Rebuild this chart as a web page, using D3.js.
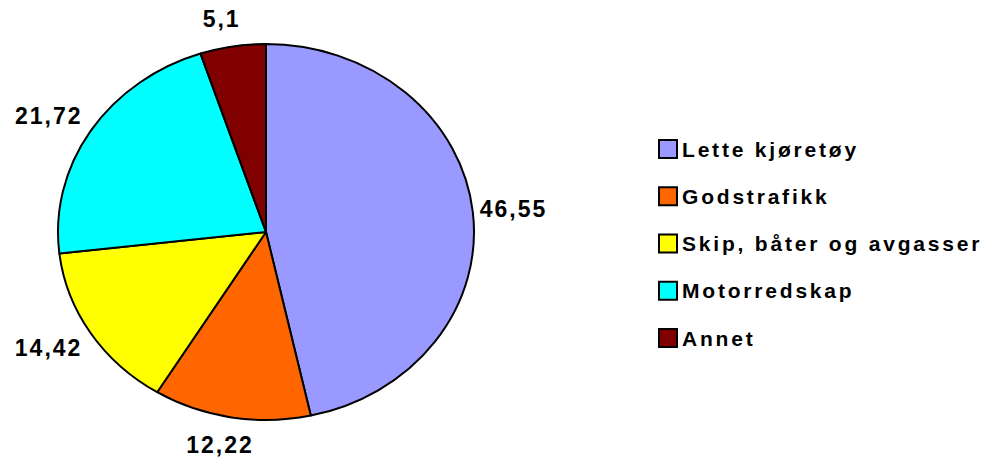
<!DOCTYPE html>
<html>
<head>
<meta charset="utf-8">
<script src="https://cdn.jsdelivr.net/npm/d3@7"></script>
<style>
  html, body { margin: 0; padding: 0; background: #fff; }
  svg { display: block; font-family: "Liberation Sans", Arial, sans-serif; }
</style>
</head>
<body>
<svg id="chart" width="988" height="460"></svg>
<script>
// Andel utslipp per kilde (prosent)
const categories = ["Lette kjøretøy", "Godstrafikk", "Skip, båter og avgasser", "Motorredskap", "Annet"];
const values = [46.55, 12.22, 14.42, 21.72, 5.1];
const valueLabels = ["46,55", "12,22", "14,42", "21,72", "5,1"];
const colors = ["#9999FF", "#FF6600", "#FFFF00", "#00FFFF", "#800000"];

const svg = d3.select("#chart");

// Elliptical pie: a unit-radius pie stretched to the plot box
const cx = 266, cy = 232, rx = 208, ry = 188;
const R = 100;

const pie = d3.pie().sort(null).value(d => d.value);
const arcs = pie(categories.map((c, i) => ({ name: c, value: values[i], label: valueLabels[i], color: colors[i] })));
const arc = d3.arc().innerRadius(0).outerRadius(R);

const pieG = svg.append("g")
  .attr("transform", `translate(${cx},${cy}) scale(${rx / R},${ry / R})`);

pieG.selectAll("path.slice")
  .data(arcs)
  .join("path")
  .attr("class", "slice")
  .attr("d", arc)
  .attr("fill", d => d.data.color)
  .attr("stroke", "#000")
  .attr("stroke-width", 2)
  .attr("stroke-linejoin", "round")
  .attr("vector-effect", "non-scaling-stroke");

// Value labels on an outer ellipse around the rim, at each slice's mid angle
const labelRx = rx + 45, labelRy = ry + 28;
svg.append("g")
  .selectAll("text")
  .data(arcs)
  .join("text")
  .attr("font-size", 23)
  .attr("font-weight", "bold")
  .attr("letter-spacing", 2)
  .attr("fill", "#000")
  .attr("text-anchor", "middle")
  .attr("dominant-baseline", "central")
  .attr("x", d => cx + labelRx * Math.sin((d.startAngle + d.endAngle) / 2) - 4)
  .attr("y", d => cy - labelRy * Math.cos((d.startAngle + d.endAngle) / 2))
  .text(d => d.data.label);

// Legend
const legendY = d3.scalePoint().domain(categories).range([149, 338]);
const rows = svg.append("g")
  .selectAll("g.row")
  .data(categories.map((c, i) => ({ name: c, color: colors[i] })))
  .join("g")
  .attr("class", "row")
  .attr("transform", d => `translate(659,${legendY(d.name)})`);

rows.append("rect")
  .attr("x", 0).attr("y", -9)
  .attr("width", 18).attr("height", 18)
  .attr("fill", d => d.color)
  .attr("stroke", "#000")
  .attr("stroke-width", 2);

rows.append("text")
  .attr("x", 23)
  .attr("y", 0)
  .attr("dominant-baseline", "central")
  .attr("font-size", 21)
  .attr("font-weight", "bold")
  .attr("letter-spacing", 2.8)
  .attr("fill", "#000")
  .text(d => d.name);
</script>
</body>
</html>
